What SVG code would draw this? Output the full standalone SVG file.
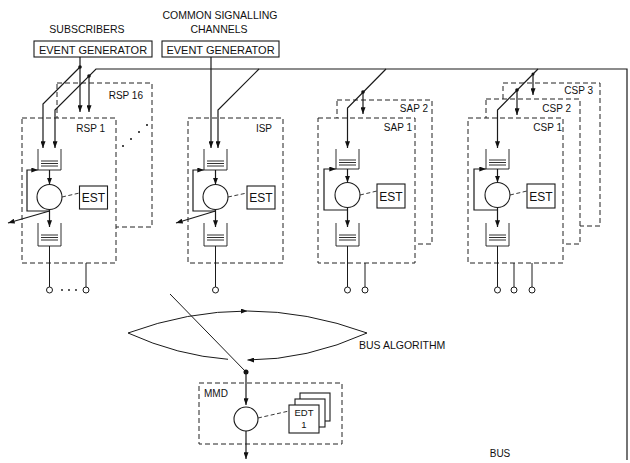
<svg xmlns="http://www.w3.org/2000/svg" width="630" height="463" viewBox="0 0 630 463">
<defs>
<marker id="ah" viewBox="0 0 8 6" refX="8" refY="3" markerWidth="7" markerHeight="5" orient="auto" markerUnits="userSpaceOnUse"><path d="M0,0 L8,3 L0,6 z" fill="#111"/></marker>
<style>
.ln{stroke:#1a1a1a;stroke-width:1.2;fill:none}
.thin{stroke:#1a1a1a;stroke-width:1;fill:none}
.q{stroke:#1a1a1a;stroke-width:0.9;fill:none}
.dash{stroke:#222;stroke-width:1;stroke-dasharray:5 3;fill:#fff}
.dl{stroke:#222;stroke-width:0.9;stroke-dasharray:4 2.5;fill:none}
.box{stroke:#1a1a1a;stroke-width:1.1;fill:#fff}
.proc{stroke:#1a1a1a;stroke-width:1.1;fill:#fff}
.dot{fill:#111}
.t{font-family:"Liberation Sans",Arial,sans-serif;fill:#111;font-size:10px}
.tm{text-anchor:middle}
.te{text-anchor:end}
</style>
</defs>
<rect width="630" height="463" fill="#fff"/>

<g id="labels">
<text class="t tm" x="87" y="33" style="font-size:10.5px">SUBSCRIBERS</text>
<text class="t tm" x="220" y="19" style="font-size:10.5px">COMMON SIGNALLING</text>
<text class="t tm" x="219" y="33" style="font-size:10.5px">CHANNELS</text>
</g>

<g id="eg-subscribers">
<rect class="box" x="34" y="41" width="118" height="16"/>
<text class="t tm" x="93" y="53.5" style="font-size:11px">EVENT GENERATOR</text>
</g>
<g id="eg-csc">
<rect class="box" x="162" y="41" width="117" height="16"/>
<text class="t tm" x="220.5" y="53.5" style="font-size:11px">EVENT GENERATOR</text>
</g>

<!-- back frames -->
<g id="rsp16">
<rect class="dash" x="57" y="83" width="95" height="144"/>
<text class="t te" x="143" y="99">RSP 16</text>
</g>
<g id="sap2">
<rect class="dash" x="337" y="100" width="95" height="144"/>
<text class="t te" x="428" y="112">SAP 2</text>
</g>
<g id="csp3">
<rect class="dash" x="503" y="83" width="97" height="143"/>
<text class="t te" x="593" y="94">CSP  3</text>
</g>
<g id="csp2">
<rect class="dash" x="486" y="99" width="94" height="145"/>
<text class="t te" x="571" y="112">CSP 2</text>
</g>

<!-- RSP 1 -->
<g id="rsp1">
<rect class="dash" x="22" y="118" width="94" height="145"/>
<text class="t te" x="105" y="132">RSP 1</text>
<path class="q" d="M38,149 V170 H61 V149 M41,161 H58 M41,163.5 H58 M41,166 H58"/>
<path class="ln" d="M49.5,170 V184.5" marker-end="url(#ah)"/>
<circle class="proc" cx="49.5" cy="197" r="12.5"/>
<path class="dl" d="M62,197 L79.5,193"/>
<rect class="box" x="79.5" y="186" width="28" height="23"/>
<text class="t tm" x="93.5" y="202" style="font-size:12px">EST</text>
<path class="ln" d="M49.5,211 H27 V170 H38" marker-end="url(#ah)"/>
<path class="ln" d="M49.5,211 L8,223" marker-end="url(#ah)"/>
<path class="ln" d="M49.5,209.5 V227" marker-end="url(#ah)"/>
<path class="q" d="M38,223 V246 H61 V223 M41,235 H58 M41,237.5 H58 M41,240 H58"/>
</g>

<!-- ISP -->
<g id="isp">
<rect class="dash" x="188" y="118" width="95" height="145"/>
<text class="t te" x="272" y="132">ISP</text>
<path class="q" d="M204,149 V170 H227 V149 M207,161 H224 M207,163.5 H224 M207,166 H224"/>
<path class="ln" d="M215.5,170 V184.5" marker-end="url(#ah)"/>
<circle class="proc" cx="215.5" cy="197" r="12.5"/>
<path class="dl" d="M228,197 L247,193"/>
<rect class="box" x="247" y="186" width="28" height="23"/>
<text class="t tm" x="261" y="202" style="font-size:12px">EST</text>
<path class="ln" d="M215.5,211 H193 V170 H204" marker-end="url(#ah)"/>
<path class="ln" d="M215.5,211 L176,223" marker-end="url(#ah)"/>
<path class="ln" d="M215.5,209.5 V227" marker-end="url(#ah)"/>
<path class="q" d="M204,223 V246 H227 V223 M207,235 H224 M207,237.5 H224 M207,240 H224"/>
</g>

<!-- SAP 1 -->
<g id="sap1">
<rect class="dash" x="318" y="118" width="97" height="145"/>
<text class="t te" x="412" y="131">SAP 1</text>
<path class="q" d="M336,149 V169 H359 V149 M339,160 H356 M339,162.5 H356 M339,165 H356"/>
<path class="ln" d="M347.5,169 V182.5" marker-end="url(#ah)"/>
<circle class="proc" cx="347.5" cy="195" r="12.5"/>
<path class="dl" d="M360,195 L377,191"/>
<rect class="box" x="377" y="184" width="28" height="24"/>
<text class="t tm" x="391" y="200.5" style="font-size:12px">EST</text>
<path class="ln" d="M347.5,210 H324 V169 H336" marker-end="url(#ah)"/>
<path class="ln" d="M347.5,207.5 V227" marker-end="url(#ah)"/>
<path class="q" d="M336,223 V246 H359 V223 M339,235 H356 M339,237.5 H356 M339,240 H356"/>
</g>

<!-- CSP 1 -->
<g id="csp1">
<rect class="dash" x="468" y="118" width="95" height="145"/>
<text class="t te" x="562" y="131">CSP 1</text>
<path class="q" d="M486,149 V169 H509 V149 M489,160 H506 M489,162.5 H506 M489,165 H506"/>
<path class="ln" d="M497.5,169 V182.5" marker-end="url(#ah)"/>
<circle class="proc" cx="497.5" cy="195" r="12.5"/>
<path class="dl" d="M510,195 L527,191"/>
<rect class="box" x="527" y="184" width="28" height="24"/>
<text class="t tm" x="541" y="200.5" style="font-size:12px">EST</text>
<path class="ln" d="M497.5,210 H474 V169 H486" marker-end="url(#ah)"/>
<path class="ln" d="M497.5,207.5 V227" marker-end="url(#ah)"/>
<path class="q" d="M486,223 V246 H509 V223 M489,235 H506 M489,237.5 H506 M489,240 H506"/>
</g>

<!-- MMD -->
<g id="mmd">
<rect class="dash" x="199" y="383" width="143" height="61"/>
<text class="t" x="204" y="397">MMD</text>
<circle class="proc" cx="246" cy="419" r="12"/>
<path class="dl" d="M258,418 L289,411"/>
</g>
<g id="edt">
<rect class="box" x="300" y="393" width="30" height="28"/>
<rect class="box" x="295" y="399" width="30" height="28"/>
<rect class="box" x="289" y="405" width="30" height="28"/>
<text class="t tm" x="304" y="416" style="font-size:9.5px">EDT</text>
<text class="t tm" x="304" y="428" style="font-size:9.5px">1</text>
</g>

<g id="bus-algorithm">
<path class="thin" d="M128,333 Q187.5,311 247.5,311" marker-end="url(#ah)"/>
<path class="thin" d="M247.5,311 Q307,311 367,333"/>
<path class="thin" d="M128,333 Q177.7,355.6 228,359.3"/>
<path class="thin" d="M367,333 Q307,360 247.5,360" marker-end="url(#ah)"/>
<text class="t" x="359" y="349" style="font-size:10.5px">BUS ALGORITHM</text>
</g>

<g id="bus-label">
<text class="t tm" x="500" y="457">BUS</text>
</g>

<g id="connectors">
<!-- bus -->
<path class="ln" d="M627,460 V69 H96 L55,110 V148" marker-end="url(#ah)"/>
<!-- subscriber event generator -->
<path class="ln" d="M80,57 V112" marker-end="url(#ah)"/>
<path class="ln" d="M80,67 L43,104 V148" marker-end="url(#ah)"/>
<circle class="dot" cx="80" cy="67" r="1.8"/>
<path class="ln" d="M89,76 V112" marker-end="url(#ah)"/>
<circle class="dot" cx="89" cy="76" r="1.8"/>
<!-- ISP -->
<path class="ln" d="M211,57 V148" marker-end="url(#ah)"/>
<path class="ln" d="M259,69 L218,110 V148" marker-end="url(#ah)"/>
<!-- SAP -->
<path class="ln" d="M386,69 L347.5,108 V148" marker-end="url(#ah)"/>
<path class="ln" d="M363,92 V114" marker-end="url(#ah)"/>
<circle class="dot" cx="363" cy="92" r="1.8"/>
<!-- CSP -->
<path class="ln" d="M538,69 L497.5,110 V148" marker-end="url(#ah)"/>
<path class="ln" d="M517,90 V115" marker-end="url(#ah)"/>
<circle class="dot" cx="517" cy="90" r="1.8"/>
<path class="ln" d="M533,74 V95" marker-end="url(#ah)"/>
<circle class="dot" cx="533" cy="74" r="1.5"/>
<!-- RSP16 dotted link -->
<circle class="dot" cx="123" cy="146" r="1"/>
<circle class="dot" cx="131" cy="139" r="1"/>
<circle class="dot" cx="139" cy="132" r="1"/>
<circle class="dot" cx="147" cy="125" r="1"/>
<!-- outputs / terminals -->
<path class="thin" d="M49.5,246 V287 M86,263 V287 M215.5,246 V287 M347.5,246 V287 M365,263 V287 M497.5,246 V287 M514,263 V287 M532,263 V287"/>
<g fill="#fff" stroke="#1a1a1a" stroke-width="1">
<circle cx="49.5" cy="290" r="3"/>
<circle cx="86" cy="290" r="3"/>
<circle cx="215.5" cy="290" r="3"/>
<circle cx="347.5" cy="290" r="3"/>
<circle cx="365" cy="290" r="3"/>
<circle cx="497.5" cy="290" r="3"/>
<circle cx="514" cy="290" r="3"/>
<circle cx="532" cy="290" r="3"/>
</g>
<circle class="dot" cx="62" cy="290" r="0.9"/>
<circle class="dot" cx="69" cy="290" r="0.9"/>
<circle class="dot" cx="76" cy="290" r="0.9"/>
<!-- bus algorithm switch to MMD -->
<path class="thin" d="M170,294 L246,372"/>
<circle class="dot" cx="246" cy="372" r="2.5"/>
<path class="ln" d="M246,372 V405" marker-end="url(#ah)"/>
<path class="ln" d="M246,431 V459" marker-end="url(#ah)"/>
</g>
</svg>
